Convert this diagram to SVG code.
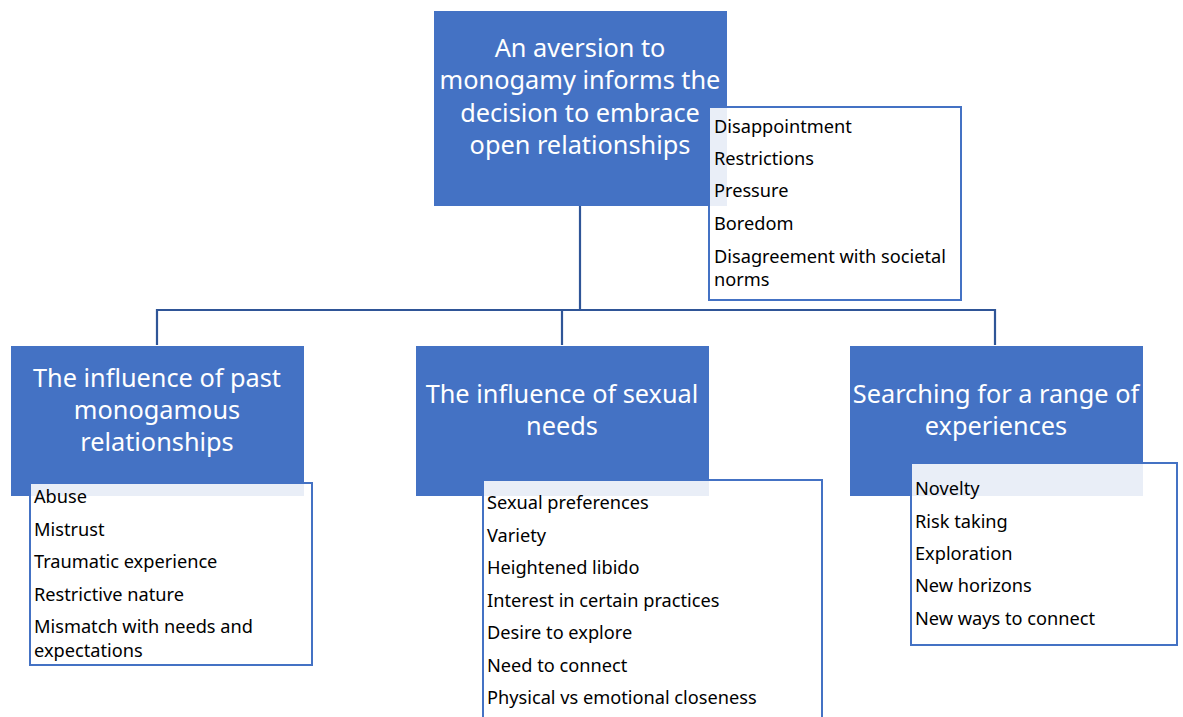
<svg xmlns="http://www.w3.org/2000/svg" width="1183" height="717" viewBox="0 0 1183 717">
  <style>
    .head { fill: #4472C4; }
    .list { fill: #FFFFFF; stroke: #4472C4; stroke-width: 2; }
    .tint { fill: #E9EEF7; }
    .ht { font-family: "Noto Sans", "Open Sans", sans-serif; font-size: 25.3px; fill: #FFFFFF; text-anchor: middle; }
    .lt { font-family: "Noto Sans", "Open Sans", sans-serif; font-size: 18.2px; fill: #000000; }
    .conn { fill: none; stroke: #2F5597; stroke-width: 2.2; }
  </style>

  <g id="connectors">
    <path class="conn" d="M580,206 V310"/>
    <path class="conn" d="M157,345 V310 H995 V345"/>
    <path class="conn" d="M562,310 V345"/>
  </g>

  <g id="node-top">
    <rect class="head" x="434" y="11" width="293" height="195"/>
    <text class="ht" x="580" y="57">An aversion to</text>
    <text class="ht" x="580" y="89">monogamy informs the</text>
    <text class="ht" x="580" y="122">decision to embrace</text>
    <text class="ht" x="580" y="154">open relationships</text>
  </g>
  <g id="list-top">
    <rect class="list" x="709" y="107" width="252" height="193"/>
    <rect class="tint" x="710" y="108" width="17" height="98"/>
    <text class="lt" x="714" y="133">Disappointment</text>
    <text class="lt" x="714" y="165">Restrictions</text>
    <text class="lt" x="714" y="197">Pressure</text>
    <text class="lt" x="714" y="230">Boredom</text>
    <text class="lt" x="714" y="263">Disagreement with societal</text>
    <text class="lt" x="714" y="286">norms</text>
  </g>

  <g id="node-past">
    <rect class="head" x="11" y="346" width="293" height="150"/>
    <text class="ht" x="157" y="387">The influence of past</text>
    <text class="ht" x="157" y="419">monogamous</text>
    <text class="ht" x="157" y="451">relationships</text>
  </g>
  <g id="list-past">
    <rect class="list" x="30" y="483" width="282" height="182"/>
    <rect class="tint" x="31" y="484" width="273" height="12"/>
    <text class="lt" x="34" y="503">Abuse</text>
    <text class="lt" x="34" y="536">Mistrust</text>
    <text class="lt" x="34" y="568">Traumatic experience</text>
    <text class="lt" x="34" y="601">Restrictive nature</text>
    <text class="lt" x="34" y="633">Mismatch with needs and</text>
    <text class="lt" x="34" y="657">expectations</text>
  </g>

  <g id="node-sexual">
    <rect class="head" x="416" y="346" width="293" height="150"/>
    <text class="ht" x="562" y="403">The influence of sexual</text>
    <text class="ht" x="562" y="435">needs</text>
  </g>
  <g id="list-sexual">
    <rect class="list" x="483" y="480" width="339" height="250"/>
    <rect class="tint" x="484" y="481" width="225" height="15"/>
    <text class="lt" x="487" y="509">Sexual preferences</text>
    <text class="lt" x="487" y="542">Variety</text>
    <text class="lt" x="487" y="574">Heightened libido</text>
    <text class="lt" x="487" y="607">Interest in certain practices</text>
    <text class="lt" x="487" y="639">Desire to explore</text>
    <text class="lt" x="487" y="672">Need to connect</text>
    <text class="lt" x="487" y="704">Physical vs emotional closeness</text>
  </g>

  <g id="node-experiences">
    <rect class="head" x="850" y="346" width="293" height="150"/>
    <text class="ht" x="996" y="403">Searching for a range of</text>
    <text class="ht" x="996" y="435">experiences</text>
  </g>
  <g id="list-experiences">
    <rect class="list" x="911" y="463" width="266" height="182"/>
    <rect class="tint" x="912" y="464" width="231" height="32"/>
    <text class="lt" x="915" y="495">Novelty</text>
    <text class="lt" x="915" y="528">Risk taking</text>
    <text class="lt" x="915" y="560">Exploration</text>
    <text class="lt" x="915" y="592">New horizons</text>
    <text class="lt" x="915" y="625">New ways to connect</text>
  </g>
</svg>
